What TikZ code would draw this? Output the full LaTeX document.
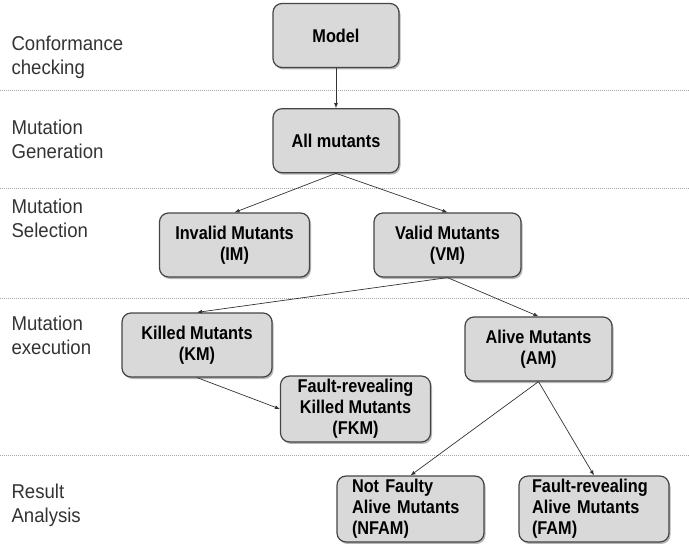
\documentclass[tikz,border=0pt]{standalone}
\usepackage{fontspec}
\setmainfont{Liberation Sans}
\newfontfamily\boxfont[FakeStretch=0.88]{Liberation Sans}
\newfontfamily\stagefont[FakeStretch=0.93]{Liberation Sans}
\usepackage{xcolor}
\usepackage{tikz}
\usetikzlibrary{positioning, arrows.meta, shadows}

\definecolor{boxgray}{HTML}{D9D9D9}
\definecolor{edgegray}{HTML}{454545}

\begin{document}
\begin{tikzpicture}[
    x=1pt, y=-1pt,
    box/.style={
        draw=edgegray,
        line width=1.2pt,
        rounded corners=9pt,
        align=center,
        font=\boxfont\fontsize{18.5}{21}\selectfont\bfseries,
        fill=boxgray,
        minimum width=150pt,
        minimum height=64pt,
        drop shadow={shadow xshift=1.5pt, shadow yshift=-2pt, opacity=0.4, fill=black!70}
    },
    stage/.style={anchor=west, align=left, text=black!80, font=\stagefont\fontsize{20}{24}\selectfont},
    arrow/.style={-{Latex[length=5pt,width=4pt]}, line width=0.7pt, draw=black!80},
    sep/.style={draw=gray!70, line width=0.8pt, dash pattern=on 0.8pt off 1.2pt}
]
\useasboundingbox (0,0) rectangle (689,551);

% stages
\node[stage] (conf) at (8,57) {Conformance\\checking};
\node[stage] (gen) at (8,139) {Mutation\\Generation};
\node[stage] (sel) at (8,218) {Mutation\\Selection};
\node[stage] (exe) at (8,335) {Mutation\\execution};
\node[stage] (res) at (8,505) {Result\\Analysis};

% separators
\foreach \y in {90,188,298,455}
    \draw[sep] (0,\y) -- (689,\y);

% mutants
\node[box, minimum width=126pt] (model) at (336,35.5) {Model};
\node[box, minimum width=126pt] (allmut) [below=40pt of model] {All mutants};
\node[box] (im) at (234.5,245) {Invalid Mutants\\(IM)};
\node[box, minimum width=147pt] (vm) at (447.5,245) {Valid Mutants\\(VM)};
\node[box] (km) at (197,345) {Killed Mutants\\(KM)};
\node[box, minimum width=147pt] (am) at (538.5,349) {Alive Mutants\\(AM)};
\node[box] (fkm) at (355.5,409) {Fault-revealing\\Killed Mutants\\(FKM)};
\node[box, minimum width=147pt, align=left, text width=117pt] (nfam) at (410.5,509) {Not Faulty\\Alive Mutants\\(NFAM)};
\node[box, align=left, text width=124pt] (fam) at (594,509) {Fault-revealing\\Alive Mutants\\(FAM)};

\draw[arrow] (model) -- (allmut);
\draw[arrow] (allmut.south) -- (im.north);
\draw[arrow] (allmut.south) -- (vm.north);
\draw[arrow] (vm.south) -- (km.north);
\draw[arrow] (vm.south) -- (am.north);
\draw[arrow] (km.south) -- (fkm.west);
\draw[arrow] (am.south) -- (nfam.north);
\draw[arrow] (am.south) -- (fam.north);

\end{tikzpicture}
\end{document}
